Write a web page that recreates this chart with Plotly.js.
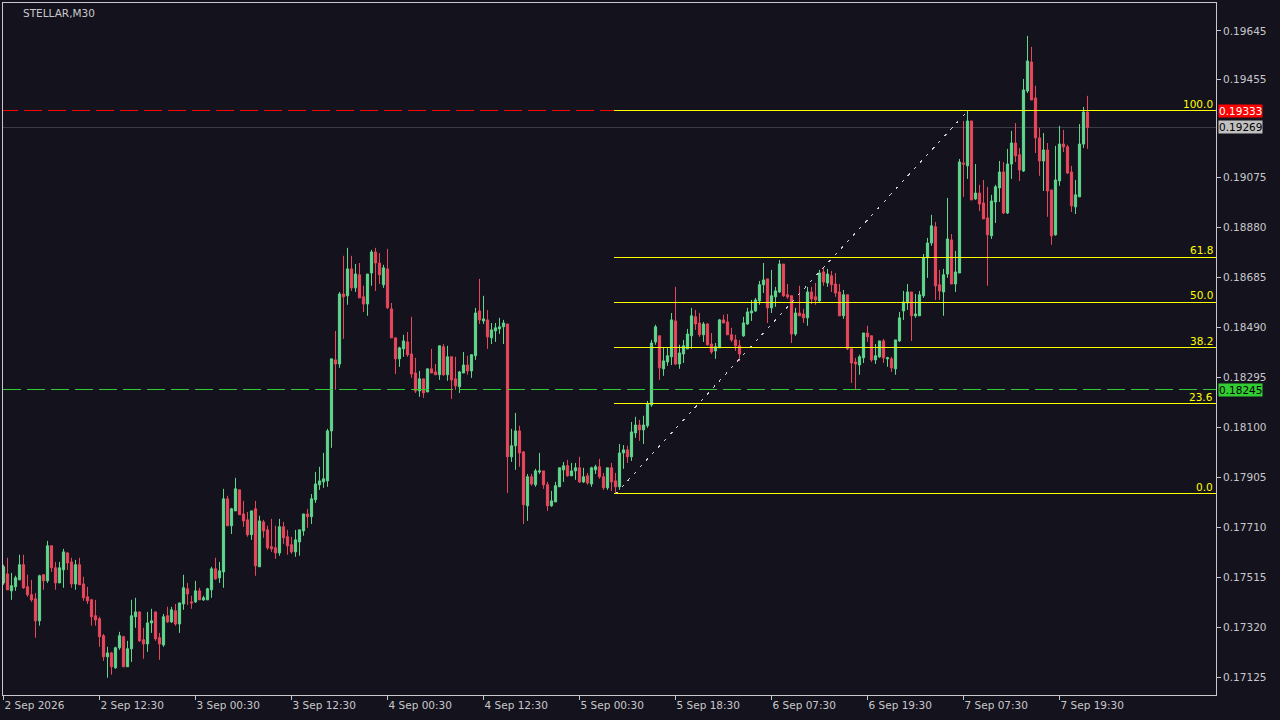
<!DOCTYPE html>
<html><head><meta charset="utf-8">
<script src="https://cdn.plot.ly/plotly-3.0.1.min.js"></script>
<style>html,body{margin:0;padding:0;background:#14121c;}#chart{width:1280px;height:720px;}
.shapelayer path{shape-rendering:crispEdges;}</style>
</head><body><div id="chart"></div>
<script>
const symbolTitle = 'STELLAR,M30';
const open = [0.17492,0.17527,0.17461,0.17477,0.17504,0.17563,0.17477,0.17446,0.17430,0.17344,0.17524,0.17500,0.17637,0.17551,0.17492,0.17543,0.17609,0.17574,0.17488,0.17563,0.17488,0.17438,0.17426,0.17364,0.17352,0.17286,0.17204,0.17219,0.17161,0.17239,0.17282,0.17165,0.17235,0.17360,0.17379,0.17270,0.17254,0.17336,0.17379,0.17278,0.17250,0.17364,0.17340,0.17383,0.17332,0.17410,0.17469,0.17418,0.17418,0.17461,0.17426,0.17426,0.17465,0.17547,0.17512,0.17535,0.17820,0.17715,0.17773,0.17855,0.17761,0.17738,0.17680,0.17781,0.17555,0.17730,0.17699,0.17633,0.17629,0.17609,0.17711,0.17672,0.17641,0.17613,0.17652,0.17695,0.17761,0.17750,0.17816,0.17875,0.17886,0.17890,0.18085,0.18362,0.18346,0.18619,0.18612,0.18717,0.18643,0.18694,0.18608,0.18580,0.18701,0.18783,0.18740,0.18655,0.18717,0.18561,0.18448,0.18366,0.18405,0.18432,0.18385,0.18311,0.18241,0.18288,0.18237,0.18327,0.18315,0.18304,0.18413,0.18304,0.18374,0.18288,0.18257,0.18311,0.18342,0.18319,0.18378,0.18553,0.18514,0.18518,0.18448,0.18475,0.18483,0.18491,0.18502,0.17984,0.18027,0.18085,0.18003,0.17793,0.17906,0.17875,0.17925,0.17929,0.17875,0.17793,0.17808,0.17867,0.17933,0.17949,0.17910,0.17929,0.17941,0.17886,0.17910,0.17878,0.17933,0.17945,0.17906,0.17863,0.17941,0.17890,0.17867,0.17999,0.18011,0.17984,0.18077,0.18108,0.18089,0.18105,0.18186,0.18432,0.18456,0.18327,0.18354,0.18374,0.18514,0.18346,0.18385,0.18405,0.18456,0.18530,0.18506,0.18460,0.18502,0.18424,0.18397,0.18409,0.18518,0.18510,0.18460,0.18440,0.18417,0.18456,0.18502,0.18545,0.18553,0.18592,0.18655,0.18678,0.18565,0.18608,0.18627,0.18736,0.18616,0.18612,0.18463,0.18545,0.18541,0.18526,0.18627,0.18608,0.18592,0.18705,0.18662,0.18690,0.18658,0.18627,0.18534,0.18616,0.18405,0.18354,0.18342,0.18370,0.18467,0.18456,0.18362,0.18374,0.18436,0.18366,0.18366,0.18327,0.18436,0.18553,0.18584,0.18627,0.18534,0.18534,0.18612,0.18760,0.18818,0.18881,0.18655,0.18627,0.18697,0.18830,0.18658,0.18701,0.19130,0.19119,0.19294,0.18990,0.19013,0.18974,0.18916,0.18846,0.18978,0.19033,0.19095,0.18935,0.19126,0.19208,0.19162,0.19099,0.19411,0.19524,0.19384,0.19228,0.19138,0.19181,0.19025,0.18850,0.19060,0.19204,0.19193,0.19095,0.18959,0.18998,0.19204,0.19329];
const high = [0.17563,0.17590,0.17531,0.17520,0.17602,0.17602,0.17524,0.17504,0.17453,0.17524,0.17524,0.17656,0.17637,0.17574,0.17574,0.17625,0.17613,0.17590,0.17582,0.17590,0.17516,0.17477,0.17430,0.17426,0.17360,0.17293,0.17243,0.17223,0.17243,0.17301,0.17286,0.17266,0.17426,0.17434,0.17379,0.17317,0.17379,0.17391,0.17379,0.17297,0.17371,0.17399,0.17399,0.17410,0.17414,0.17524,0.17492,0.17442,0.17500,0.17473,0.17442,0.17473,0.17555,0.17590,0.17574,0.17859,0.17832,0.17785,0.17902,0.17855,0.17812,0.17769,0.17773,0.17812,0.17754,0.17738,0.17715,0.17742,0.17715,0.17742,0.17730,0.17699,0.17672,0.17699,0.17699,0.17761,0.17781,0.17839,0.17925,0.17945,0.17999,0.18093,0.18366,0.18475,0.18627,0.18768,0.18799,0.18768,0.18736,0.18740,0.18651,0.18697,0.18791,0.18799,0.18779,0.18733,0.18795,0.18584,0.18448,0.18413,0.18460,0.18471,0.18530,0.18370,0.18319,0.18288,0.18327,0.18405,0.18346,0.18417,0.18424,0.18417,0.18374,0.18374,0.18319,0.18393,0.18378,0.18385,0.18565,0.18678,0.18612,0.18557,0.18506,0.18506,0.18526,0.18518,0.18502,0.18093,0.18155,0.18105,0.18007,0.17917,0.17917,0.17937,0.17999,0.17929,0.17886,0.17851,0.17886,0.17941,0.17964,0.17972,0.17960,0.17960,0.17984,0.17941,0.17921,0.17945,0.17953,0.17976,0.17921,0.17941,0.17960,0.17921,0.18034,0.18030,0.18027,0.18120,0.18140,0.18128,0.18144,0.18202,0.18440,0.18499,0.18456,0.18409,0.18409,0.18545,0.18647,0.18421,0.18440,0.18483,0.18565,0.18557,0.18545,0.18510,0.18506,0.18467,0.18428,0.18522,0.18538,0.18541,0.18487,0.18460,0.18440,0.18530,0.18565,0.18596,0.18604,0.18670,0.18740,0.18678,0.18713,0.18647,0.18752,0.18736,0.18658,0.18612,0.18565,0.18651,0.18561,0.18647,0.18647,0.18662,0.18713,0.18721,0.18717,0.18709,0.18701,0.18658,0.18635,0.18616,0.18405,0.18370,0.18382,0.18467,0.18495,0.18456,0.18424,0.18436,0.18444,0.18374,0.18374,0.18440,0.18549,0.18631,0.18658,0.18627,0.18619,0.18631,0.18775,0.18838,0.18928,0.18900,0.18713,0.18717,0.18994,0.18853,0.18787,0.19146,0.19294,0.19333,0.19294,0.19126,0.19045,0.19064,0.19037,0.19006,0.19045,0.19138,0.19134,0.19185,0.19255,0.19286,0.19189,0.19458,0.19626,0.19583,0.19431,0.19267,0.19247,0.19208,0.19025,0.19197,0.19275,0.19259,0.19201,0.19119,0.19064,0.19282,0.19349,0.19392];
const low = [0.17485,0.17465,0.17426,0.17461,0.17504,0.17469,0.17438,0.17418,0.17278,0.17325,0.17465,0.17492,0.17535,0.17465,0.17492,0.17473,0.17543,0.17473,0.17465,0.17485,0.17422,0.17410,0.17325,0.17325,0.17243,0.17188,0.17122,0.17134,0.17157,0.17231,0.17165,0.17165,0.17184,0.17317,0.17262,0.17196,0.17223,0.17297,0.17266,0.17192,0.17243,0.17336,0.17336,0.17325,0.17297,0.17387,0.17406,0.17391,0.17414,0.17426,0.17422,0.17426,0.17434,0.17504,0.17492,0.17473,0.17715,0.17683,0.17773,0.17758,0.17711,0.17672,0.17660,0.17520,0.17555,0.17668,0.17621,0.17613,0.17586,0.17598,0.17644,0.17602,0.17606,0.17594,0.17598,0.17676,0.17707,0.17722,0.17804,0.17855,0.17863,0.17867,0.18019,0.18245,0.18331,0.18444,0.18577,0.18631,0.18627,0.18604,0.18549,0.18534,0.18651,0.18631,0.18658,0.18643,0.18561,0.18448,0.18307,0.18335,0.18374,0.18374,0.18292,0.18233,0.18218,0.18214,0.18237,0.18311,0.18304,0.18284,0.18300,0.18280,0.18210,0.18245,0.18233,0.18311,0.18304,0.18292,0.18362,0.18502,0.18502,0.18405,0.18424,0.18432,0.18463,0.18424,0.17843,0.17964,0.17933,0.17945,0.17722,0.17734,0.17871,0.17867,0.17917,0.17859,0.17773,0.17789,0.17808,0.17867,0.17886,0.17906,0.17910,0.17894,0.17882,0.17882,0.17875,0.17867,0.17917,0.17898,0.17855,0.17855,0.17851,0.17839,0.17855,0.17937,0.17960,0.17968,0.18058,0.18046,0.18034,0.18097,0.18179,0.18421,0.18284,0.18300,0.18339,0.18342,0.18342,0.18327,0.18350,0.18405,0.18405,0.18479,0.18452,0.18432,0.18417,0.18385,0.18366,0.18409,0.18506,0.18460,0.18432,0.18397,0.18358,0.18452,0.18499,0.18514,0.18549,0.18577,0.18623,0.18506,0.18545,0.18569,0.18623,0.18608,0.18600,0.18428,0.18456,0.18534,0.18506,0.18495,0.18580,0.18577,0.18588,0.18651,0.18647,0.18627,0.18608,0.18534,0.18522,0.18401,0.18272,0.18249,0.18304,0.18350,0.18432,0.18354,0.18346,0.18370,0.18350,0.18335,0.18315,0.18304,0.18432,0.18518,0.18557,0.18436,0.18526,0.18534,0.18604,0.18682,0.18807,0.18596,0.18596,0.18534,0.18682,0.18658,0.18627,0.18701,0.18998,0.19068,0.18986,0.18986,0.18943,0.18912,0.18651,0.18834,0.18896,0.18978,0.18931,0.18931,0.19068,0.19134,0.19060,0.19095,0.19403,0.19376,0.19169,0.19080,0.19021,0.18920,0.18811,0.18846,0.19041,0.19173,0.19087,0.18939,0.18931,0.18998,0.19189,0.19185];
const close = [0.17555,0.17465,0.17481,0.17512,0.17563,0.17473,0.17446,0.17426,0.17344,0.17520,0.17500,0.17637,0.17551,0.17492,0.17551,0.17613,0.17570,0.17488,0.17563,0.17485,0.17434,0.17422,0.17360,0.17348,0.17282,0.17204,0.17219,0.17165,0.17239,0.17286,0.17165,0.17235,0.17364,0.17379,0.17266,0.17254,0.17336,0.17344,0.17274,0.17254,0.17360,0.17340,0.17387,0.17332,0.17414,0.17473,0.17449,0.17414,0.17461,0.17426,0.17434,0.17469,0.17547,0.17508,0.17539,0.17820,0.17715,0.17781,0.17859,0.17758,0.17734,0.17680,0.17773,0.17559,0.17734,0.17695,0.17629,0.17625,0.17609,0.17711,0.17668,0.17637,0.17613,0.17660,0.17699,0.17761,0.17750,0.17820,0.17878,0.17890,0.17898,0.18085,0.18366,0.18346,0.18619,0.18608,0.18717,0.18643,0.18697,0.18604,0.18580,0.18697,0.18783,0.18740,0.18694,0.18721,0.18565,0.18448,0.18366,0.18409,0.18436,0.18382,0.18307,0.18241,0.18288,0.18233,0.18327,0.18311,0.18304,0.18417,0.18304,0.18374,0.18284,0.18261,0.18315,0.18342,0.18319,0.18382,0.18545,0.18518,0.18522,0.18452,0.18479,0.18487,0.18491,0.18506,0.17984,0.18027,0.18085,0.17999,0.17797,0.17906,0.17878,0.17929,0.17929,0.17875,0.17793,0.17812,0.17871,0.17941,0.17949,0.17910,0.17929,0.17941,0.17886,0.17906,0.17882,0.17941,0.17945,0.17906,0.17863,0.17941,0.17886,0.17867,0.17999,0.18011,0.17984,0.18081,0.18108,0.18089,0.18108,0.18190,0.18428,0.18491,0.18331,0.18358,0.18378,0.18518,0.18346,0.18389,0.18417,0.18463,0.18534,0.18502,0.18460,0.18502,0.18421,0.18393,0.18413,0.18518,0.18506,0.18460,0.18440,0.18417,0.18385,0.18506,0.18549,0.18553,0.18596,0.18655,0.18674,0.18565,0.18612,0.18631,0.18736,0.18612,0.18608,0.18463,0.18545,0.18534,0.18526,0.18627,0.18600,0.18596,0.18701,0.18666,0.18697,0.18655,0.18623,0.18534,0.18616,0.18405,0.18350,0.18346,0.18374,0.18467,0.18452,0.18362,0.18378,0.18436,0.18370,0.18370,0.18331,0.18440,0.18526,0.18588,0.18627,0.18534,0.18541,0.18616,0.18760,0.18818,0.18885,0.18651,0.18631,0.18694,0.18834,0.18658,0.18705,0.19134,0.19126,0.19294,0.18986,0.19013,0.18970,0.18912,0.18850,0.18982,0.19037,0.19095,0.18935,0.19126,0.19208,0.19158,0.19103,0.19415,0.19528,0.19376,0.19228,0.19138,0.19181,0.19021,0.18846,0.19064,0.19204,0.19193,0.19091,0.18963,0.19006,0.19204,0.19329,0.19269];

const timeTickBars = [0,24,48,72,96,120,144,168,192,216,240,264];
const timeTickLabels = ['2 Sep 2026','2 Sep 12:30','3 Sep 00:30','3 Sep 12:30','4 Sep 00:30','4 Sep 12:30','5 Sep 00:30','5 Sep 18:30','6 Sep 07:30','6 Sep 19:30','7 Sep 07:30','7 Sep 19:30'];
const priceTicks = [0.17125,0.17320,0.17515,0.17710,0.17905,0.18100,0.18295,0.18490,0.18685,0.18880,0.19075,0.19455,0.19645];

const fibLevels = [0.0, 23.6, 38.2, 50.0, 61.8, 100.0];
const fibLow = 0.17839, fibHigh = 0.19333;
const fibStartBar = 153, fibEndBar = 241;
const resistanceLevel = 0.19333;
const supportLevel = 0.18245;
const bidPrice = 0.19269;

const GREEN = '#5fd68c', RED = '#e8485c', BG = '#14121c', FG = '#c8c8cc', YEL = '#ffff00';
const idx = open.map((_, i) => i);
const half = 0.5;

const shapes = [];
shapes.push({type:'line', xref:'paper', x0:0, x1:1, yref:'y', y0:bidPrice, y1:bidPrice, line:{color:'#3c3a46', width:1}, layer:'below'});
shapes.push({type:'line', xref:'x', x0:-1, x1:fibStartBar - half, yref:'y', y0:resistanceLevel, y1:resistanceLevel, line:{color:'#ff0000', width:1, dash:'18px,6px'}, layer:'above'});
shapes.push({type:'line', xref:'paper', x0:0, x1:1, yref:'y', y0:supportLevel, y1:supportLevel, line:{color:'#32cd32', width:1, dash:'18px,6px'}, layer:'above'});
shapes.push({type:'line', xref:'x', x0:fibStartBar, x1:fibEndBar, yref:'y', y0:fibLow, y1:fibHigh, line:{color:'#cfcfcf', width:1, dash:'3px,6px'}, layer:'above'});
const annotations = [];
fibLevels.forEach(lv => {
  const p = fibLow + (fibHigh - fibLow) * lv / 100;
  shapes.push({type:'line', xref:'x', x0:fibStartBar - half, x1:400, yref:'y', y0:p, y1:p, line:{color:YEL, width:1}, layer:'above'});
  annotations.push({xref:'paper', x:1, xanchor:'right', xshift:-1, yref:'y', y:p, yanchor:'bottom', yshift:-1, text:lv.toFixed(1), showarrow:false, font:{family:'DejaVu Sans', size:10.5, color:YEL}});
});
annotations.push({xref:'paper', x:0.015, y:1, yref:'paper', xanchor:'left', yanchor:'top', yshift:-2, text:symbolTitle, showarrow:false, font:{family:'DejaVu Sans', size:10.5, color:FG}});
function tag(price, bg, fg) {
  annotations.push({xref:'paper', x:1, xanchor:'left', xshift:2, yref:'y', y:price, yanchor:'middle', text:price.toFixed(5), showarrow:false, bgcolor:bg, borderpad:0, font:{family:'DejaVu Sans', size:10.5, color:fg}});
}
tag(resistanceLevel, '#ff0000', '#ffffff');
tag(bidPrice, '#c0c0c0', '#000000');
tag(supportLevel, '#32cd32', '#000000');

const trace = {
  type:'candlestick', x:idx, open:open, high:high, low:low, close:close,
  increasing:{line:{color:GREEN, width:1}, fillcolor:GREEN},
  decreasing:{line:{color:RED, width:1}, fillcolor:RED},
  whiskerwidth:0, hoverinfo:'skip', showlegend:false
};

const layout = {
  width:1280, height:720,
  margin:{l:3, r:64, t:3, b:25, pad:0},
  paper_bgcolor:BG, plot_bgcolor:BG,
  boxgap:0.45, boxgroupgap:0,
  showlegend:false,
  xaxis:{range:[-0.125, 303.125], rangeslider:{visible:false}, showgrid:false, zeroline:false,
    tickmode:'array', tickvals:timeTickBars, ticktext:timeTickLabels, ticks:'outside', ticklen:4, tickcolor:FG,
    ticklabelposition:'outside right', showline:true, linecolor:FG, linewidth:1, mirror:true,
    tickfont:{family:'DejaVu Sans', size:10.5, color:FG}},
  yaxis:{side:'right', range:[0.170548, 0.197542], showgrid:false, zeroline:false,
    tickmode:'array', tickvals:priceTicks, ticktext:priceTicks.map(v => v.toFixed(5)), ticks:'outside', ticklen:4, tickcolor:FG,
    showline:true, linecolor:FG, linewidth:1, mirror:true,
    tickfont:{family:'DejaVu Sans', size:10.5, color:FG}},
  shapes:shapes, annotations:annotations
};
Plotly.newPlot('chart', [trace], layout, {staticPlot:true, displayModeBar:false});
</script></body></html>
